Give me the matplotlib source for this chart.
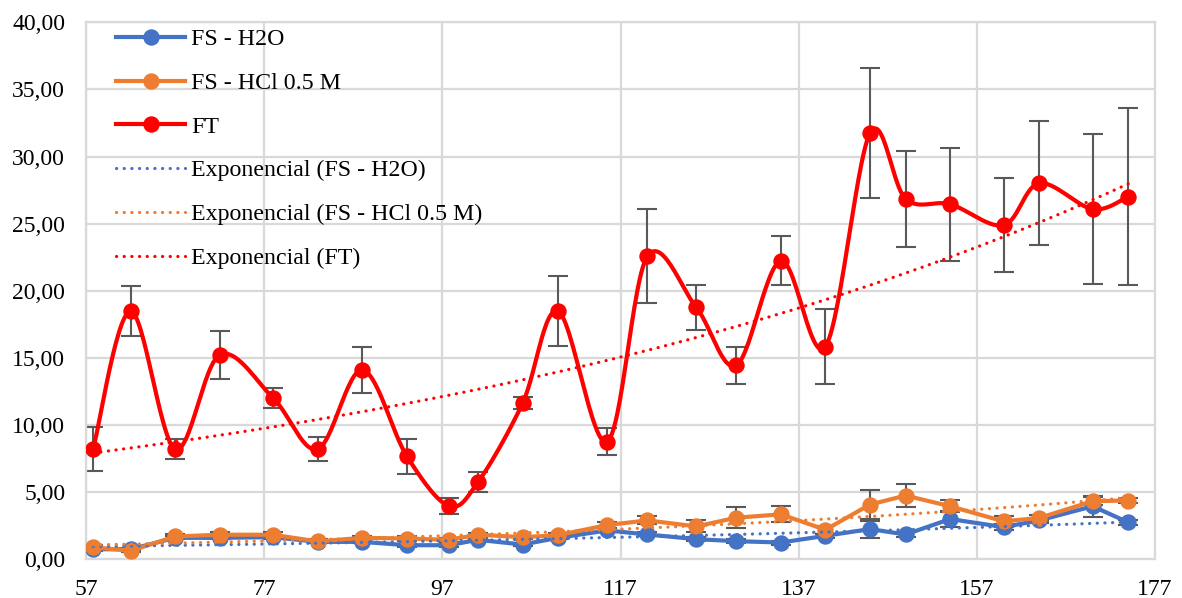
import numpy as np
import matplotlib.pyplot as plt
from matplotlib.ticker import FixedLocator, FuncFormatter

plt.rcParams['font.family'] = ['Liberation Serif', 'DejaVu Serif']

x = [57.8, 62, 67, 72, 78, 83, 88, 93, 97.7, 101, 106, 110, 115.5,
     120, 125.5, 130, 135, 140, 145, 149, 154, 160, 164, 170, 174]

fs_h2o = [0.75, 0.75, 1.6, 1.6, 1.65, 1.3, 1.3, 1.05, 1.05, 1.45, 1.1, 1.6, 2.15,
          1.85, 1.5, 1.35, 1.25, 1.75, 2.25, 1.85, 3.0, 2.4, 2.9, 3.95, 2.75]
fs_h2o_err = [0.1, 0.1, 0.1, 0.1, 0.1, 0.1, 0.1, 0.1, 0.1, 0.1, 0.1, 0.1, 0.15,
              0.15, 0.15, 0.15, 0.15, 0.15, 0.63, 0.2, 0.6, 0.2, 0.2, 0.8, 0.2]

fs_hcl = [0.9, 0.63, 1.7, 1.83, 1.83, 1.33, 1.6, 1.55, 1.45, 1.83, 1.65, 1.8, 2.55,
          2.9, 2.45, 3.1, 3.35, 2.2, 4.08, 4.75, 3.95, 2.83, 3.08, 4.33, 4.38]
fs_hcl_err = [0.15, 0.1, 0.2, 0.2, 0.2, 0.15, 0.15, 0.2, 0.15, 0.15, 0.1, 0.15, 0.2,
              0.3, 0.45, 0.77, 0.6, 0.3, 1.05, 0.85, 0.45, 0.4, 0.2, 0.3, 0.2]

ft = [8.21, 18.48, 8.21, 15.22, 12.01, 8.21, 14.1, 7.69, 3.98, 5.75, 11.62, 18.48, 8.76,
      22.56, 18.76, 14.45, 22.23, 15.85, 31.74, 26.85, 26.45, 24.89, 28.01, 26.08, 27.02]
ft_err = [1.65, 1.88, 0.72, 1.79, 0.76, 0.87, 1.72, 1.3, 0.6, 0.76, 0.45, 2.6, 1.0,
          3.5, 1.7, 1.36, 1.82, 2.76, 4.86, 3.58, 4.2, 3.5, 4.63, 5.57, 6.6]

x_ticks = [57, 77, 97, 117, 137, 157, 177]
y_ticks = [0, 5, 10, 15, 20, 25, 30, 35, 40]

BLUE = '#4472C4'
ORANGE = '#ED7D31'
RED = '#FF0000'
GRID = '#D9D9D9'
ERR = '#595959'


def smooth(xs, ys, n=30):
    # bezier smoothing like the office "smoothed line" option
    pts = np.column_stack([np.asarray(xs, float), np.asarray(ys, float)])
    out = [pts[0]]
    t = np.linspace(0, 1, n)[1:, None]
    for i in range(len(pts) - 1):
        p0 = pts[i - 1] if i > 0 else pts[i]
        p1 = pts[i]
        p2 = pts[i + 1]
        p3 = pts[i + 2] if i + 2 < len(pts) else pts[i + 1]
        c1 = p1 + (p2 - p0) / 6
        c2 = p2 - (p3 - p1) / 6
        seg = ((1 - t) ** 3) * p1 + 3 * ((1 - t) ** 2) * t * c1 + 3 * (1 - t) * t ** 2 * c2 + t ** 3 * p2
        out.extend(seg)
    out = np.array(out)
    return out[:, 0], out[:, 1]


def exp_fit(xs, ys):
    xs = np.asarray(xs, float)
    b, a = np.polyfit(xs, np.log(ys), 1)
    xx = np.linspace(xs.min(), xs.max(), 200)
    return xx, np.exp(a) * np.exp(b * xx)


fig = plt.figure(figsize=(11.82, 5.98), dpi=100)
ax = fig.add_axes([0.0728, 0.0647, 0.9044, 0.898])

lw = 3.0
ms = 10.8
ekw = dict(fmt='none', ecolor=ERR, elinewidth=1.5, capsize=7, capthick=1.5, zorder=2)

ax.errorbar(x, fs_h2o, yerr=fs_h2o_err, **ekw)
ax.errorbar(x, fs_hcl, yerr=fs_hcl_err, **ekw)
ax.errorbar(x, ft, yerr=ft_err, **ekw)

h1, = ax.plot(x, fs_h2o, color=BLUE, lw=lw, marker='o', ms=ms, zorder=3, label='FS - H2O')
h2, = ax.plot(x, fs_hcl, color=ORANGE, lw=lw, marker='o', ms=ms, zorder=3, label='FS - HCl 0.5 M')
sx, sy = smooth(x, ft)
ax.plot(sx, sy, color=RED, lw=lw, zorder=3, solid_capstyle='round')
ax.plot(x, ft, ls='none', color=RED, marker='o', ms=ms, zorder=3)
h3, = ax.plot([], [], color=RED, lw=lw, marker='o', ms=ms, label='FT')

dots = dict(lw=2.3, ls=(0, (0.05, 2.35)), dash_capstyle='round', zorder=4)
tx, ty = exp_fit(x, fs_h2o)
h4, = ax.plot(tx, ty, color=BLUE, label='Exponencial (FS - H2O)', **dots)
tx, ty = exp_fit(x, fs_hcl)
h5, = ax.plot(tx, ty, color=ORANGE, label='Exponencial (FS - HCl 0.5 M)', **dots)
tx, ty = exp_fit(x, ft)
h6, = ax.plot(tx, ty, color=RED, label='Exponencial (FT)', **dots)

ax.set_xlim(57, 177)
ax.set_ylim(0, 40)
ax.xaxis.set_major_locator(FixedLocator(x_ticks))
ax.yaxis.set_major_locator(FixedLocator(y_ticks))
ax.yaxis.set_major_formatter(FuncFormatter(lambda v, p: f'{v:.2f}'.replace('.', ',')))
ax.tick_params(length=0, labelsize=17, colors='black')
ax.tick_params(axis='y', pad=15)
ax.tick_params(axis='x', pad=14)
ax.grid(True, color=GRID, lw=1.6, zorder=0)
ax.set_axisbelow(True)
for s in ax.spines.values():
    s.set_color(GRID)
    s.set_linewidth(1.6)

ax.legend(handles=[h1, h2, h3, h4, h5, h6], loc='upper left', frameon=False,
          fontsize=17.2, handlelength=2.9, handletextpad=0.25, labelspacing=0.92,
          bbox_to_anchor=(0.019, 1.006), borderaxespad=0)

fig.savefig('out.png', dpi=100)
